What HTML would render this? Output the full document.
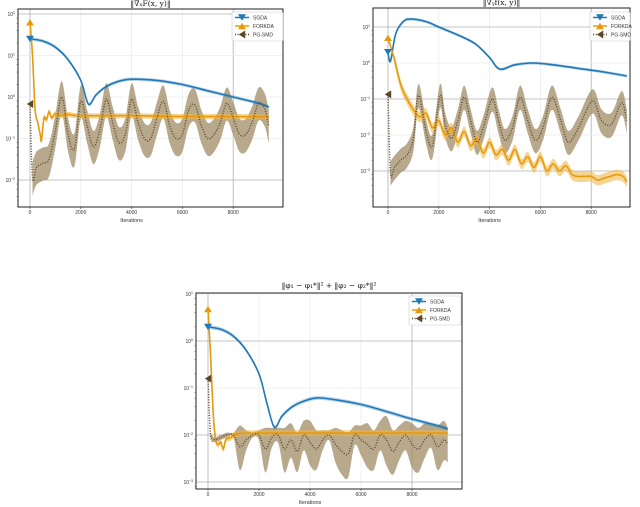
<!DOCTYPE html>
<html><head><meta charset="utf-8"><style>
html,body{margin:0;padding:0;background:#fff;}
svg{display:block;font-family:"Liberation Sans",sans-serif;}
</style></head><body>
<svg id="fig" width="640" height="507" viewBox="0 0 640 507" xmlns="http://www.w3.org/2000/svg"></svg>
<script>
// ---------- data (log10 values) ----------
const xTicks = [0, 2000, 4000, 6000, 8000];
const xTickLabels = ["0", "2000", "4000", "6000", "8000"];
const seriesNames = ["SGDA", "FORKDA", "PG-SMD"];

// Plot 1: ||grad_x F||
const p1SgdaX = [0,500,1000,1500,2000,2300,2600,3000,3500,4000,5000,6000,7000,8000,9000,9400];
const p1SgdaY = [1.4,1.35,1.2,0.9,0.4,-0.17,0.05,0.25,0.38,0.43,0.4,0.3,0.15,0.0,-0.15,-0.24];
const p1ForkX = [0,100,200,300,400,450,550,650,750,850,1000,1200,1500,2000,4000,6000,8000,9400];
const p1ForkY = [1.8,1.0,-0.3,-0.6,-0.9,-1.05,-0.5,-0.55,-0.35,-0.5,-0.4,-0.45,-0.42,-0.45,-0.45,-0.47,-0.47,-0.48];
const p1PgX = [0,100,250,500,750,1000,1250,1500,1750,2000,2250,2500,2750,3000,3250,3500,3750,4000,4250,4500,4750,5000,5250,5500,5750,6000,6250,6500,6750,7000,7250,7500,7750,8000,8250,8500,8750,9000,9250,9400];
const p1PgY = [-0.17,-1.95,-1.7,-1.6,-1.5,-0.8,0.0,-0.9,-1.25,-0.1,-0.7,-1.2,-0.8,-0.05,-0.6,-1.1,-0.9,-0.05,-0.6,-1.0,-1.0,-0.5,-0.1,-0.7,-1.0,-0.9,-0.3,-0.2,-0.7,-1.0,-0.9,-0.6,-0.15,-0.5,-0.9,-0.9,-0.6,-0.15,-0.3,-0.7];

// Plot 2: ||grad_y f||
const p2SgdaX = [0,100,300,600,900,1500,2000,3000,3500,4000,4400,5000,5700,6500,7500,8500,9400];
const p2SgdaY = [0.3,0.05,0.8,1.15,1.22,1.15,1.0,0.7,0.5,0.15,-0.17,-0.05,0.0,-0.05,-0.15,-0.25,-0.36];
const p2ForkX = [0,250,500,750,1000,1250,1500,1750,2000,2250,2500,2750,3000,3250,3500,3750,4000,4250,4500,4750,5000,5250,5500,5750,6000,6250,6500,6750,7000,7250,7500,7750,8000,8250,8500,8750,9000,9250,9400];
const p2ForkY = [0.7,0.1,-0.6,-1.0,-1.3,-1.5,-1.4,-1.8,-1.6,-2.0,-1.8,-2.2,-1.9,-2.3,-2.1,-2.5,-2.2,-2.55,-2.4,-2.7,-2.4,-2.8,-2.6,-2.9,-2.6,-3.0,-2.8,-3.0,-2.85,-3.1,-3.15,-3.15,-3.15,-3.25,-3.2,-3.15,-3.1,-3.15,-3.3];
const p2PgX = [0,100,250,500,750,1000,1200,1500,1750,2050,2250,2500,2750,3000,3250,3500,3750,4100,4350,4600,4900,5200,5500,5800,6100,6450,6800,7100,7500,8050,8400,8800,9200,9400];
const p2PgY = [-0.87,-3.05,-2.9,-2.7,-2.55,-2.1,-0.9,-1.9,-2.3,-0.9,-1.7,-2.1,-1.6,-0.95,-1.6,-2.2,-1.8,-1.0,-1.6,-2.15,-1.8,-0.95,-1.6,-2.15,-1.8,-0.95,-1.6,-2.2,-1.8,-1.05,-1.6,-1.7,-1.1,-1.6];

// Plot 3: ||phi1-phi1*||^2 + ||phi2-phi2*||^2
const p3SgdaX = [0,500,1000,1500,2000,2300,2600,2900,3300,3800,4300,5000,6000,7000,8000,9000,9400];
const p3SgdaY = [0.3,0.25,0.1,-0.2,-0.7,-1.3,-1.83,-1.6,-1.4,-1.27,-1.21,-1.25,-1.35,-1.5,-1.66,-1.8,-1.87];
const p3ForkX = [0,100,200,300,400,500,600,700,900,1200,2000,4000,6000,8000,9400];
const p3ForkY = [0.68,-0.3,-1.5,-2.1,-2.2,-2.15,-2.3,-2.1,-2.05,-1.97,-1.96,-1.96,-1.96,-1.96,-1.96];
const p3PgX = [0,100,250,500,750,1000,1250,1500,1750,2000,2250,2500,2750,3000,3250,3500,3750,4000,4250,4500,4750,5000,5250,5500,5750,6000,6250,6500,6750,7000,7250,7500,7750,8000,8250,8500,8750,9000,9250,9400];
const p3PgY = [-0.8,-2.0,-2.1,-2.05,-2.0,-2.0,-2.25,-2.1,-2.0,-2.0,-2.3,-2.05,-2.0,-2.3,-2.1,-2.35,-2.0,-2.15,-2.3,-2.1,-2.0,-2.2,-2.35,-2.4,-2.0,-2.1,-2.2,-2.3,-2.0,-2.1,-2.35,-2.15,-2.0,-2.2,-2.3,-2.1,-2.0,-2.25,-2.1,-2.2];
const p3PgSpread = [0.05,0.05,0.05,0.05,0.05,0.05,0.45,0.2,0.05,0.1,0.45,0.2,0.15,0.45,0.35,0.4,0.3,0.45,0.4,0.2,0.1,0.35,0.45,0.45,0.2,0.3,0.45,0.4,0.3,0.5,0.45,0.35,0.3,0.45,0.45,0.35,0.25,0.45,0.4,0.35];

// ---------- drawing ----------
const NS = "http://www.w3.org/2000/svg";
const svg = document.getElementById("fig");
const C_SGDA = "#1f78b8", C_FORK = "#e69a0c", C_PG = "#5c4626";
function mk(tag, attrs, parent) {
  const e = document.createElementNS(NS, tag);
  for (const k in attrs) e.setAttribute(k, attrs[k]);
  (parent || svg).appendChild(e);
  return e;
}
function smoothPath(pts) {
  let d = "M" + pts[0][0].toFixed(1) + "," + pts[0][1].toFixed(1);
  for (let i = 0; i < pts.length - 1; i++) {
    const p0 = pts[Math.max(0, i - 1)], p1 = pts[i], p2 = pts[i + 1], p3 = pts[Math.min(pts.length - 1, i + 2)];
    const c1 = [p1[0] + (p2[0] - p0[0]) / 6, p1[1] + (p2[1] - p0[1]) / 6];
    const c2 = [p2[0] - (p3[0] - p1[0]) / 6, p2[1] - (p3[1] - p1[1]) / 6];
    d += "C" + c1.map(v => v.toFixed(1)).join(",") + " " + c2.map(v => v.toFixed(1)).join(",") + " " + p2[0].toFixed(1) + "," + p2[1].toFixed(1);
  }
  return d;
}
function makePlot(cfg) {
  const g = mk("g", {});
  
  
  const xS = v => cfg.x0 + v / 1000 * cfg.pxk;
  const yS = l => cfg.yRef - cfg.pxd * l;
  cfg.vgrid.forEach(v => {
    const l = mk("line", {x1: xS(v), x2: xS(v), y1: cfg.top, y2: cfg.bottom, stroke: v === 8000 || v === 0 ? "#b0b0b0" : "#ececec", "stroke-width": 0.8}, g);
    
    
  });
  cfg.decades.forEach((d) => {
    const strong = cfg.hgridStrong.includes(d);
    const l = mk("line", {x1: cfg.left, x2: cfg.right, y1: yS(d), y2: yS(d), stroke: strong ? "#b0b0b0" : "#ececec", "stroke-width": 0.8}, g);
    
    
    const t = mk("text", {x: cfg.left - 3, y: yS(d) + 2, "font-size": 5, "text-anchor": "end", fill: "#333"}, g);
    t.textContent = "10";
    const s = mk("tspan", {dy: -2, "font-size": 3.5}, t);
    s.textContent = String(d).replace("-", "−");
    
    
    for (let m = 2; m < 10; m += 2) {
      const yy = yS(d - 1 + Math.log10(m));
      if (yy < cfg.bottom && yy > cfg.top) mk("line", {x1: cfg.left - 1.5, x2: cfg.left, y1: yy, y2: yy, stroke: "#555", "stroke-width": 0.5}, g);
    }
  });
  const toPts = (xs, ys) => xs.map((v, i) => [xS(v), yS(ys[i])]);
  function band(xs, ys, spread, color, op, nm) {
    const sp = i => Array.isArray(spread) ? spread[i] : spread;
    const up = xs.map((v, i) => [xS(v), yS(ys[i] + sp(i))]);
    const dn = xs.map((v, i) => [xS(v), yS(ys[i] - sp(i) * 1.1)]).reverse();
    const d = smoothPath(up) + smoothPath(dn).replace("M", "L") + "Z";
    const p = mk("path", {d: d, fill: color, "fill-opacity": op}, g);
    
    
  }
  band(cfg.pgX.slice(1), cfg.pgY.slice(1), Array.isArray(cfg.pgSpread) ? cfg.pgSpread.slice(1) : cfg.pgSpread, "#a08b66", 0.75, "pg-smd-band");
  band(cfg.sgX, cfg.sgY, 0.04, C_SGDA, 0.3, "sgda-band");
  band(cfg.fkX.slice(1), cfg.fkY.slice(1), cfg.fkSpread, "#f0b84a", 0.6, "forkda-band");
  let p = mk("path", {d: smoothPath(toPts(cfg.sgX, cfg.sgY)), fill: "none", stroke: C_SGDA, "stroke-width": 1.6}, g);
  
  
  p = mk("path", {d: smoothPath(toPts(cfg.fkX, cfg.fkY)), fill: "none", stroke: C_FORK, "stroke-width": 1.6}, g);
  
  
  p = mk("path", {d: smoothPath(toPts(cfg.pgX, cfg.pgY)), fill: "none", stroke: C_PG, "stroke-width": 1.4, "stroke-dasharray": "1 1.6"}, g);
  
  
  function tri(cx, cy, dir, color, nm) {
    const s = 4;
    let pts;
    if (dir === "down") pts = [[cx - s, cy - s * 0.8], [cx + s, cy - s * 0.8], [cx, cy + s * 0.8]];
    else if (dir === "up") pts = [[cx - s, cy + s * 0.8], [cx + s, cy + s * 0.8], [cx, cy - s * 0.8]];
    else pts = [[cx + s * 0.8, cy - s], [cx + s * 0.8, cy + s], [cx - s * 0.8, cy]];
    const t = mk("polygon", {points: pts.map(q => q.join(",")).join(" "), fill: color}, g);
    
    
  }
  tri(xS(cfg.sgX[0]), yS(cfg.sgY[0]), "down", C_SGDA, "sgda-marker");
  tri(xS(cfg.fkX[0]), yS(cfg.fkY[0]), "up", C_FORK, "forkda-marker");
  tri(xS(cfg.pgX[0]), yS(cfg.pgY[0]), "left", C_PG, "pg-smd-marker");
  const fr = mk("rect", {x: cfg.left, y: cfg.top, width: cfg.right - cfg.left, height: cfg.bottom - cfg.top, fill: "none", stroke: "#222", "stroke-width": 1}, g);
  
  
  xTicks.forEach((v, i) => {
    mk("line", {x1: xS(v), x2: xS(v), y1: cfg.bottom, y2: cfg.bottom + 2, stroke: "#333", "stroke-width": 0.6}, g);
    const t = mk("text", {x: xS(v), y: cfg.bottom + 7, "font-size": 5, "text-anchor": "middle", fill: "#333"}, g);
    t.textContent = xTickLabels[i];
    
    
  });
  const xl = mk("text", {x: xS(4000), y: cfg.bottom + 15, "font-size": 5.5, "text-anchor": "middle", fill: "#333"}, g);
  xl.textContent = "Iterations";
  
  
  const tt = mk("text", {x: (cfg.left + cfg.right) / 2, y: cfg.titleY, "font-size": 7.5, "text-anchor": "middle", fill: "#111", "font-family": "DejaVu Serif, serif"}, g);
  tt.textContent = cfg.title;
  
  
  const lg = mk("g", {}, g);
  
  
  mk("rect", {x: cfg.lx, y: cfg.ly, width: cfg.lw, height: 29, fill: "#fff", "fill-opacity": 0.9, stroke: "#ccc", "stroke-width": 0.6, rx: 1.5}, lg);
  const cols = [C_SGDA, C_FORK, C_PG], dirs = ["down", "up", "left"];
  seriesNames.forEach((n, i) => {
    const yy = cfg.ly + 5.5 + i * 8.5;
    const ln = mk("line", {x1: cfg.lx + 3, x2: cfg.lx + 17, y1: yy, y2: yy, stroke: cols[i], "stroke-width": 1.5, "stroke-dasharray": i === 2 ? "1 1.6" : "none"}, lg);
    
    
    tri(cfg.lx + 10, yy, dirs[i], cols[i], "legend-marker");
    const t = mk("text", {x: cfg.lx + 21, y: yy + 2, "font-size": 5, fill: "#333"}, lg);
    t.textContent = n;
    
    
  });
}
makePlot({name: "chart-grad-x", left: 18, right: 283, top: 9, bottom: 207, x0: 30, pxk: 25.4, yRef: 97, pxd: 41.5,
  decades: [2, 1, 0, -1, -2], hgridStrong: [2, -2], vgrid: [0, 2000, 4000, 6000, 8000], title: "‖∇ₓF(x, y)‖", titleY: 6,
  sgX: p1SgdaX, sgY: p1SgdaY, fkX: p1ForkX, fkY: p1ForkY, fkSpread: 0.06, pgX: p1PgX, pgY: p1PgY, pgSpread: 0.38,
  lx: 232, ly: 12, lw: 51});
makePlot({name: "chart-grad-y", left: 373, right: 630, top: 8, bottom: 207, x0: 388, pxk: 25.4, yRef: 63, pxd: 36,
  decades: [1, 0, -1, -2, -3], hgridStrong: [1, -1, -3], vgrid: [0, 2000, 4000, 6000, 8000], title: "‖∇ᵧf(x, y)‖", titleY: 5,
  sgX: p2SgdaX, sgY: p2SgdaY, fkX: p2ForkX, fkY: p2ForkY, fkSpread: 0.14, pgX: p2PgX, pgY: p2PgY, pgSpread: 0.32,
  lx: 590, ly: 12, lw: 40});
makePlot({name: "chart-phi-error", left: 196, right: 462, top: 293, bottom: 489, x0: 208, pxk: 25.5, yRef: 341, pxd: 47,
  decades: [1, 0, -1, -2, -3], hgridStrong: [0, -2, -3], vgrid: [0, 2000, 4000, 6000, 8000], title: "‖φ₁ − φ₁*‖² + ‖φ₂ − φ₂*‖²", titleY: 288,
  sgX: p3SgdaX, sgY: p3SgdaY, fkX: p3ForkX, fkY: p3ForkY, fkSpread: 0.06, pgX: p3PgX, pgY: p3PgY, pgSpread: p3PgSpread,
  lx: 409, ly: 296, lw: 52});
</script>
</body></html>
